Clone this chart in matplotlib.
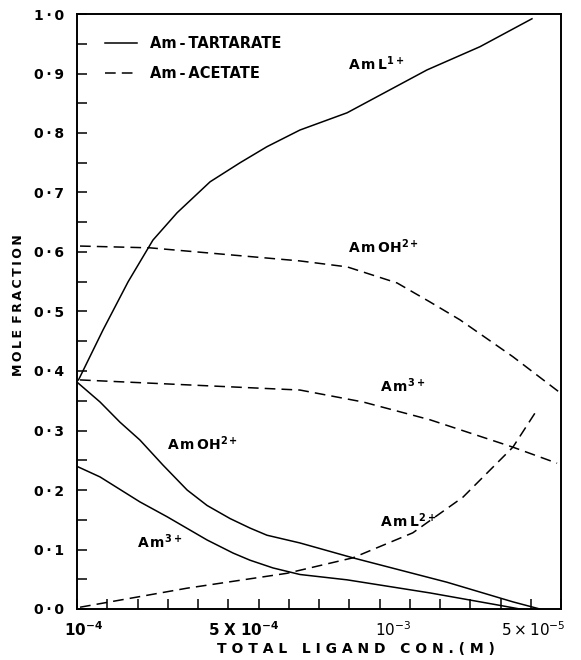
import matplotlib
matplotlib.use("Agg")
import matplotlib.pyplot as plt
from matplotlib.lines import Line2D
from matplotlib.ticker import MultipleLocator, FuncFormatter

# x is expressed in tick-interval units of the original (non-uniform) axis
# --- Am-TARTARATE (solid) ---
tart_AmL1_x = [0.05, 0.86, 1.69, 2.51, 3.31, 4.40, 5.39, 6.28, 7.37, 8.93, 11.57, 13.32, 15.04]
tart_AmL1_y = [0.385, 0.469, 0.550, 0.620, 0.666, 0.718, 0.750, 0.777, 0.805, 0.834, 0.906, 0.945, 0.992]

tart_AmOH_x = [0.03, 0.76, 1.42, 2.08, 2.84, 3.64, 4.30, 5.06, 5.72, 6.28, 7.37, 9.12, 12.23, 14.41, 15.30]
tart_AmOH_y = [0.380, 0.348, 0.314, 0.284, 0.242, 0.200, 0.174, 0.152, 0.136, 0.124, 0.111, 0.086, 0.045, 0.012, 0.0]

tart_Am3_x = [0.03, 0.76, 2.08, 2.98, 4.30, 5.16, 5.72, 6.48, 7.37, 8.93, 11.67, 13.88, 14.64]
tart_Am3_y = [0.239, 0.222, 0.180, 0.155, 0.116, 0.094, 0.082, 0.069, 0.058, 0.049, 0.027, 0.007, 0.0]

# --- Am-ACETATE (dashed) ---
acet_AmOH_x = [0.10, 2.41, 7.37, 8.93, 10.58, 11.67, 12.66, 14.41, 15.93]
acet_AmOH_y = [0.610, 0.607, 0.585, 0.575, 0.548, 0.516, 0.486, 0.424, 0.365]

acet_Am3_x = [0.10, 7.37, 9.45, 11.67, 14.41, 15.87]
acet_Am3_y = [0.385, 0.368, 0.348, 0.318, 0.272, 0.245]

acet_AmL2_x = [0.10, 3.64, 6.94, 9.12, 11.10, 12.76, 14.41, 15.20]
acet_AmL2_y = [0.003, 0.035, 0.060, 0.086, 0.128, 0.188, 0.272, 0.334]

xtick_pos = [0.23, 5.5, 10.45, 15.1]
xtick_labels = [r'$\mathbf{10^{-4}}$', r'$\mathbf{5\ X\ 10^{-4}}$', r'$\mathregular{10^{-3}}$', r'$\mathregular{5\times10^{-5}}$']

legend_labels = ['Am\u2009-\u2009TARTARATE', 'Am\u2009-\u2009ACETATE']

fig = plt.figure(figsize=(5.81, 6.60), dpi=100)
ax = fig.add_axes([77/581, 51/660, 484/581, 595/660])

lw = 1.1
dash = (0, (7, 4))
ax.plot(tart_AmL1_x, tart_AmL1_y, color='black', lw=lw)
ax.plot(tart_AmOH_x, tart_AmOH_y, color='black', lw=lw)
ax.plot(tart_Am3_x, tart_Am3_y, color='black', lw=lw)
ax.plot(acet_AmOH_x, acet_AmOH_y, color='black', lw=lw, ls=dash)
ax.plot(acet_Am3_x, acet_Am3_y, color='black', lw=lw, ls=dash)
ax.plot(acet_AmL2_x, acet_AmL2_y, color='black', lw=lw, ls=dash)

ax.set_xlim(0, 16)
ax.set_ylim(0, 1.0)

ax.set_xticks(range(17))
ax.set_xticklabels([])
ax.yaxis.set_major_locator(MultipleLocator(0.1))
ax.yaxis.set_minor_locator(MultipleLocator(0.05))
ax.yaxis.set_major_formatter(FuncFormatter(lambda v, p: f"{v:.1f}".replace('.', '\u2009·\u2009')))
ax.tick_params(axis='both', which='both', direction='in', length=7, width=1.1)
ax.tick_params(axis='y', labelsize=10, pad=9)
for lab in ax.get_yticklabels():
    lab.set_fontweight('bold')

for s in ax.spines.values():
    s.set_linewidth(1.4)

tx = ax.get_xaxis_transform()
for p, l in zip(xtick_pos, xtick_labels):
    ax.text(p, -0.035, l, transform=tx, ha='center', va='center', fontsize=11)

fig.text(356/581, 4/660, 'T O T A L   L I G A N D   C O N . ( M )', ha='center', va='bottom',
         fontsize=10, fontweight='bold')
fig.text(19/581, 1 - 305/660, '\u2009'.join('MOLE') + '\u2002' + '\u2009'.join('FRACTION'),
         ha='center', va='center', rotation=90, fontsize=9, fontweight='bold')

# species labels
ax.text(8.96, 0.906, r'$\mathbf{A\,m\,L^{1+}}$', fontsize=10, va='baseline')
ax.text(8.96, 0.598, r'$\mathbf{A\,m\,OH^{2+}}$', fontsize=10, va='baseline')
ax.text(10.0, 0.365, r'$\mathbf{A\,m^{3+}}$', fontsize=10, va='baseline')
ax.text(10.0, 0.138, r'$\mathbf{A\,m\,L^{2+}}$', fontsize=10, va='baseline')
ax.text(2.98, 0.267, r'$\mathbf{A\,m\,OH^{2+}}$', fontsize=10, va='baseline')
ax.text(1.98, 0.103, r'$\mathbf{A\,m^{3+}}$', fontsize=10, va='baseline')

handles = [Line2D([], [], color='black', lw=lw), Line2D([], [], color='black', lw=lw, ls=dash)]
leg = ax.legend(handles, legend_labels, loc='upper left', bbox_to_anchor=(0.03, 0.985),
                frameon=False, handlelength=2.2, handletextpad=0.9, labelspacing=1.0,
                prop={'size': 10.5, 'weight': 'bold'})

fig.savefig('out.png', dpi=100)
